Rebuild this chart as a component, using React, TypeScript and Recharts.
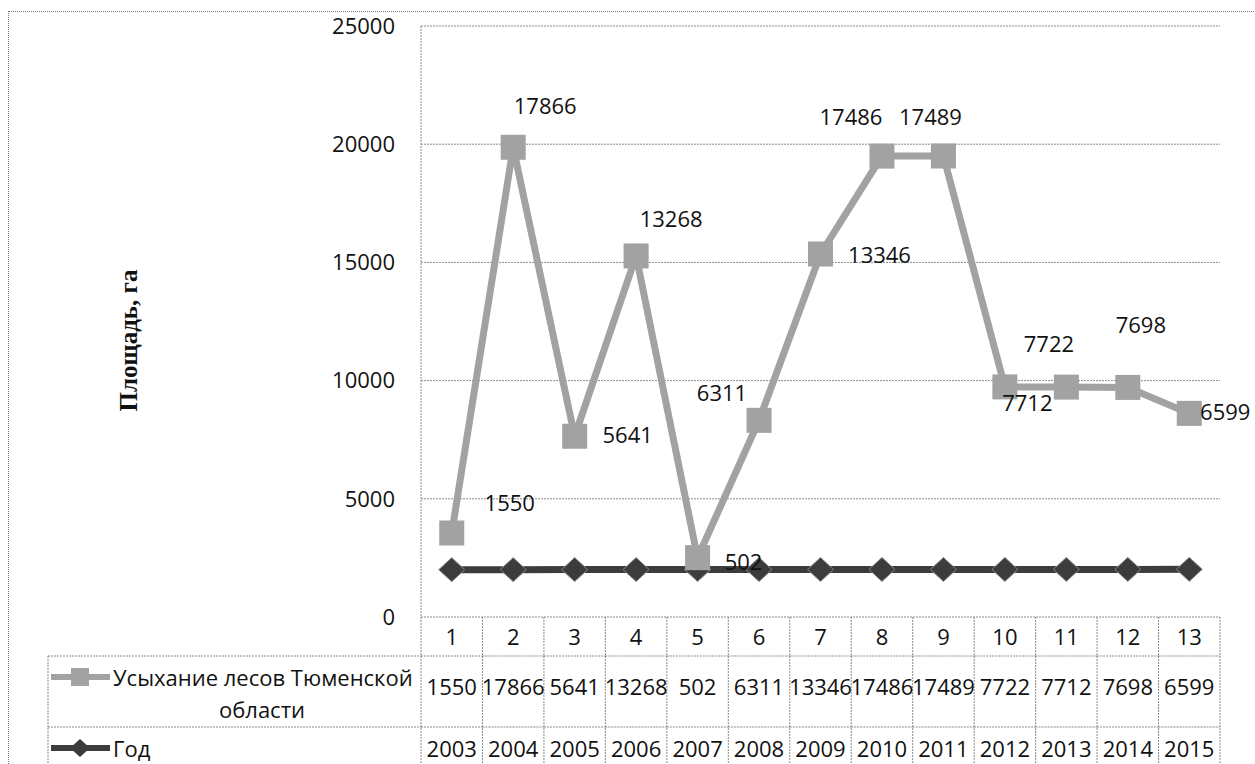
import React from 'react';
import { LineChart, Line, XAxis, YAxis, CartesianGrid, LabelList } from 'recharts';

const categories = ['1', '2', '3', '4', '5', '6', '7', '8', '9', '10', '11', '12', '13'];
const dryingValues = [1550, 17866, 5641, 13268, 502, 6311, 13346, 17486, 17489, 7722, 7712, 7698, 6599];
const yearValues = [2003, 2004, 2005, 2006, 2007, 2008, 2009, 2010, 2011, 2012, 2013, 2014, 2015];
const yTicks = [0, 5000, 10000, 15000, 20000, 25000];
const dryingName = ['Усыхание лесов Тюменской', 'области'];
const yearName = 'Год';
const axisTitle = 'Площадь, га';

// Manually placed data-label offsets (layout only), as in the original
const labelOffsets: [number, number][] = [
  [58, -31], [32, -42], [53, -2], [35, -38], [46, 3], [-37, -28], [59, 0],
  [-31, -40], [-13, -40], [44, -44], [-39, 15], [13, -63], [36, -2],
];

// stacked line: the drying series is drawn on top of the year series
const data = categories.map((c, i) => ({
  cat: c,
  year: yearValues[i],
  drying: dryingValues[i],
  stacked: yearValues[i] + dryingValues[i],
}));

const FONT = '"Open Sans", "DejaVu Sans", sans-serif';
const GRAY = '#a2a2a2';
const DARK = '#3c3c3c';
const GRID = '#8a8a8a';
const W = 1255;
const H = 764;
const M = { top: 26, right: 35, left: 0, bottom: 0 };
const Y_AXIS_W = 421;
const X_AXIS_H = 147;
const BAND = (W - M.right - Y_AXIS_W) / categories.length;
const TABLE_LEFT = 48;

const Square = (props: any) => {
  const { cx, cy, index, size = 25 } = props;
  if (cx == null || cy == null) return null;
  return <rect key={`sq-${index}`} x={cx - size / 2} y={cy - size / 2} width={size} height={size} fill={GRAY} />;
};

const Diamond = (props: any) => {
  const { cx, cy, index, w = 26, h = 24 } = props;
  if (cx == null || cy == null) return null;
  const pts = `${cx - w / 2},${cy} ${cx},${cy - h / 2} ${cx + w / 2},${cy} ${cx},${cy + h / 2}`;
  return <polygon key={`dm-${index}`} points={pts} fill={DARK} stroke="#888" strokeWidth={1} />;
};

const gridLine = { stroke: GRID, strokeWidth: 1, strokeDasharray: '2 1' };

const TableTick = (props: any) => {
  const { x, y, index, payload } = props;
  const left = x - BAND / 2;
  const right = x + BAND / 2;
  const bottom = H + 5;
  const r1 = y + 39;
  const r2 = y + 110;
  const textStyle = { fontFamily: FONT, fontSize: 22, fill: '#111' } as const;
  return (
    <g>
      <line x1={right} y1={y} x2={right} y2={bottom} {...gridLine} />
      {index === 0 && <line x1={left} y1={y} x2={left} y2={bottom} {...gridLine} />}
      <line x1={left} y1={r1} x2={right} y2={r1} {...gridLine} />
      <line x1={left} y1={r2} x2={right} y2={r2} {...gridLine} />
      <text x={x} y={y + 19} textAnchor="middle" dominantBaseline="central" {...textStyle}>
        {payload.value}
      </text>
      <text x={x} y={y + 69} textAnchor="middle" dominantBaseline="central" {...textStyle}>
        {dryingValues[index]}
      </text>
      <text x={x} y={y + 131} textAnchor="middle" dominantBaseline="central" {...textStyle}>
        {yearValues[index]}
      </text>
      {index === 0 && (
        <g>
          <line x1={TABLE_LEFT} y1={r1} x2={left} y2={r1} {...gridLine} />
          <line x1={TABLE_LEFT} y1={r2} x2={left} y2={r2} {...gridLine} />
          <line x1={TABLE_LEFT} y1={r1} x2={TABLE_LEFT} y2={bottom} {...gridLine} />
          {/* legend key: drying */}
          <line x1={TABLE_LEFT + 3} y1={y + 60} x2={TABLE_LEFT + 62} y2={y + 60} stroke={GRAY} strokeWidth={6} />
          <rect x={TABLE_LEFT + 23} y={y + 51} width={18} height={18} fill={GRAY} />
          <text x={TABLE_LEFT + 65} y={y + 60} textAnchor="start" dominantBaseline="central" {...textStyle}>
            {dryingName[0]}
          </text>
          <text x={262} y={y + 92} textAnchor="middle" dominantBaseline="central" {...textStyle}>
            {dryingName[1]}
          </text>
          {/* legend key: year */}
          <line x1={TABLE_LEFT + 3} y1={y + 131} x2={TABLE_LEFT + 62} y2={y + 131} stroke={DARK} strokeWidth={6} />
          <polygon
            points={`${TABLE_LEFT + 22},${y + 131} ${TABLE_LEFT + 32},${y + 122} ${TABLE_LEFT + 42},${y + 131} ${TABLE_LEFT + 32},${y + 140}`}
            fill={DARK}
          />
          <text x={TABLE_LEFT + 65} y={y + 131} textAnchor="start" dominantBaseline="central" {...textStyle}>
            {yearName}
          </text>
        </g>
      )}
    </g>
  );
};

const DataLabel = (props: any) => {
  const { x, y, index } = props;
  if (x == null || y == null) return null;
  const [dx, dy] = labelOffsets[index] || [0, -30];
  return (
    <text
      key={`lbl-${index}`}
      x={x + dx}
      y={y + dy}
      textAnchor="middle"
      dominantBaseline="central"
      fontFamily={FONT}
      fontSize={22}
      fill="#111"
    >
      {dryingValues[index]}
    </text>
  );
};

const AxisTitle = (props: any) => {
  const vb = props.viewBox || { x: 0, y: M.top, width: Y_AXIS_W, height: 591 };
  const cx = vb.x + 128;
  const cy = vb.y + vb.height / 2 + 19;
  return (
    <text
      x={cx}
      y={cy}
      transform={`rotate(-90 ${cx} ${cy})`}
      textAnchor="middle"
      dominantBaseline="central"
      fontFamily='"Liberation Serif", "Times New Roman", serif'
      fontWeight="bold"
      fontSize={25}
      fill="#111"
    >
      {axisTitle}
    </text>
  );
};

export default function App() {
  return (
    <div style={{ position: 'absolute', left: 0, top: 0, width: W, height: H, background: '#fff', overflow: 'hidden' }}>
      <div
        style={{
          position: 'absolute',
          left: 8,
          top: 11,
          width: W + 20,
          height: H + 20,
          borderLeft: '1px dotted #777',
          borderTop: '1px dotted #777',
        }}
      />
      <LineChart width={W} height={H} data={data} margin={M}>
        <CartesianGrid horizontal vertical={false} stroke={GRID} strokeDasharray="2 1" />
        <XAxis
          dataKey="cat"
          height={X_AXIS_H}
          interval={0}
          padding={{ left: BAND / 2, right: BAND / 2 }}
          tickLine={false}
          axisLine={false}
          tickSize={0}
          tickMargin={0}
          tick={<TableTick />}
        />
        <YAxis
          width={Y_AXIS_W}
          domain={[0, 25000]}
          ticks={yTicks}
          interval={0}
          tickLine={false}
          tickSize={0}
          tickMargin={26}
          axisLine={{ stroke: GRID, strokeDasharray: '2 1' }}
          tick={{ fontFamily: FONT, fontSize: 22, fill: '#111' }}
          label={<AxisTitle />}
        />
        <Line
          dataKey="year"
          stroke={DARK}
          strokeWidth={7}
          dot={<Diamond />}
          activeDot={false}
          isAnimationActive={false}
        />
        <Line
          dataKey="stacked"
          stroke={GRAY}
          strokeWidth={7}
          dot={<Square />}
          activeDot={false}
          isAnimationActive={false}
        >
          <LabelList dataKey="drying" content={<DataLabel />} />
        </Line>
      </LineChart>
    </div>
  );
}
